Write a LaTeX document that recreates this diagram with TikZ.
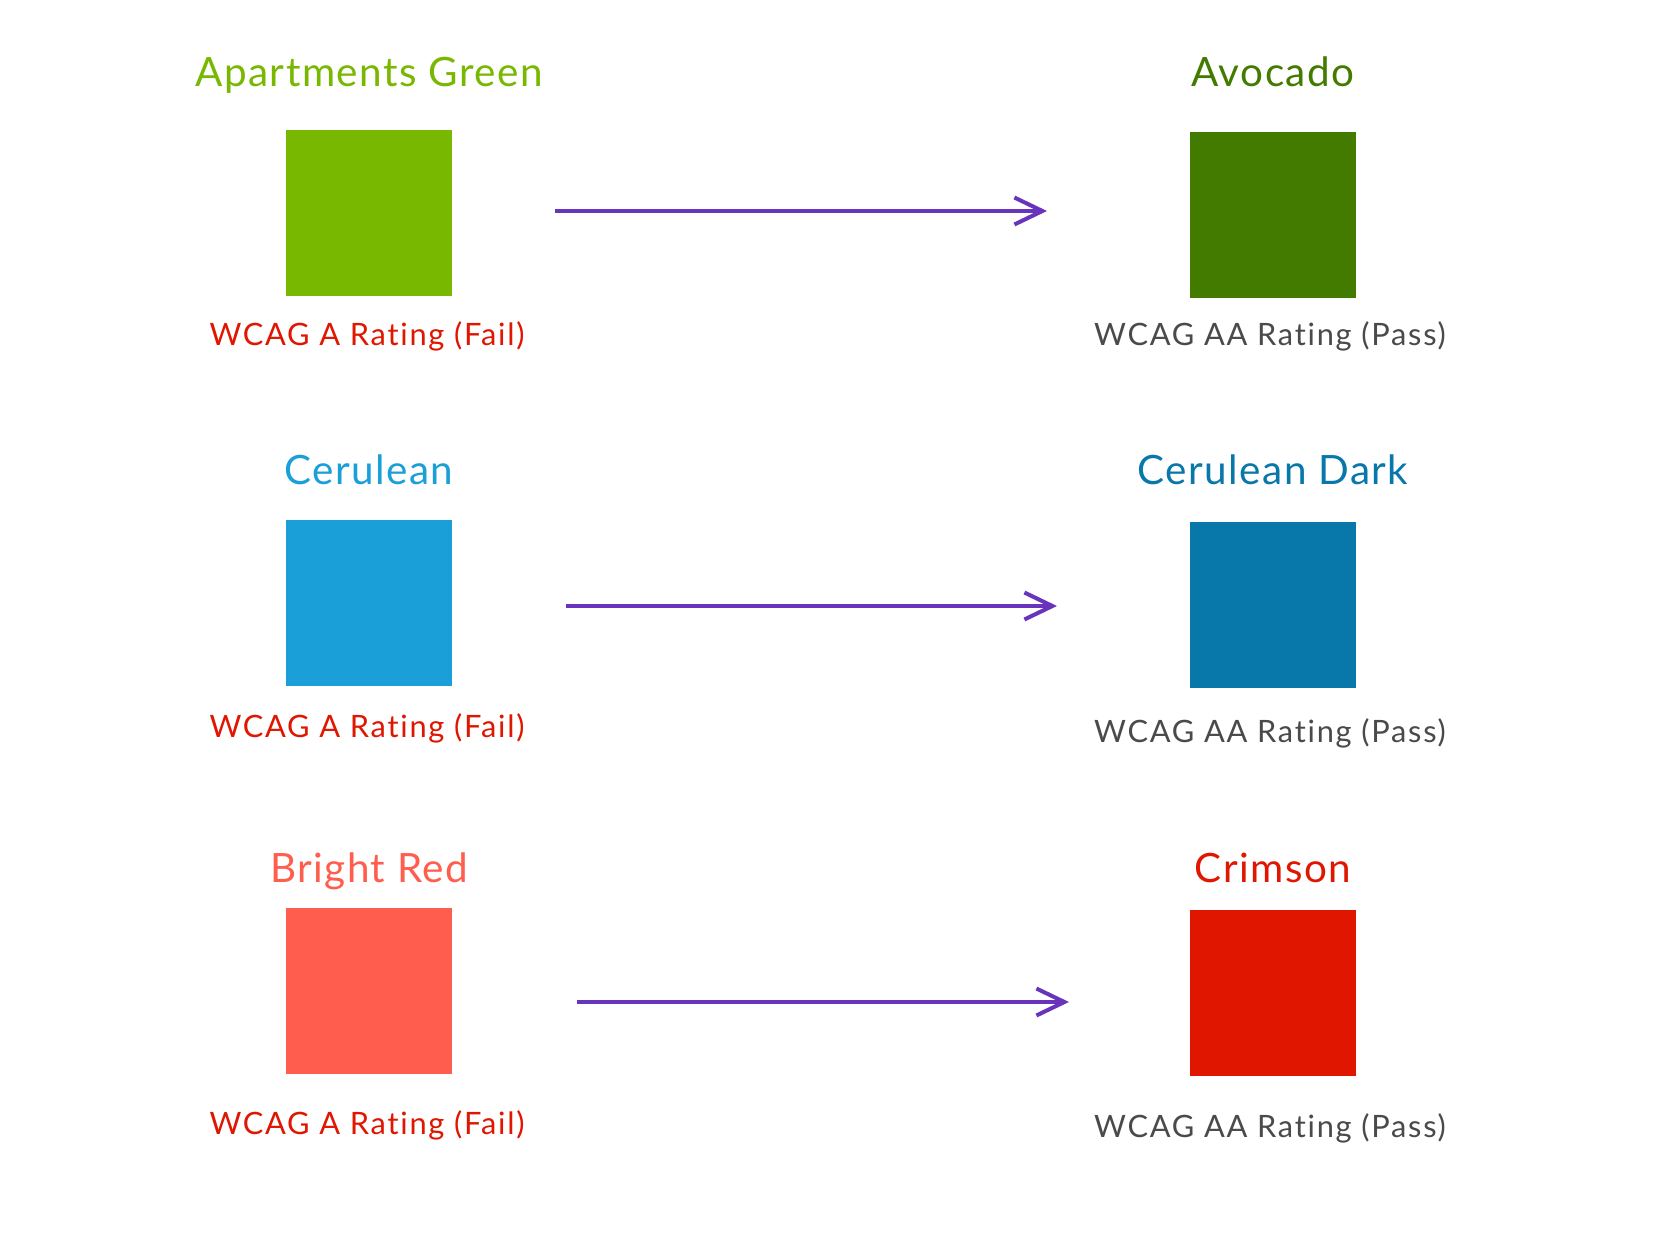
\documentclass[tikz,border=0pt]{standalone}
\usepackage{fontspec}
\setmainfont{Lato}[Ligatures=NoCommon]
\newfontfamily\titlefont{Lato}[LetterSpace=3.6, Ligatures=NoCommon]
\newfontfamily\labelfont{Lato}[LetterSpace=5.7, Ligatures=NoCommon]
\usetikzlibrary{arrows.meta}
\definecolor{apgreen}{HTML}{78B800}
\definecolor{avocado}{HTML}{437A00}
\definecolor{cerulean}{HTML}{1A9FD9}
\definecolor{ceruleandark}{HTML}{0877AA}
\definecolor{brightred}{HTML}{FF5D4D}
\definecolor{crimson}{HTML}{E01600}
\definecolor{failred}{HTML}{E01600}
\definecolor{passgray}{HTML}{4A4A4A}
\definecolor{arrowpurple}{HTML}{6834BC}
\tikzset{
  swatch/.style={fill=#1, draw=none, inner sep=0pt, minimum width=83pt, minimum height=83pt, anchor=north west},
  title/.style={text=#1, anchor=base, font=\titlefont\fontsize{20.2}{24}\selectfont, inner sep=0pt},
  faillabel/.style={text=failred, anchor=base, font=\labelfont\fontsize{15.4}{18}\selectfont, inner sep=0pt},
  passlabel/.style={text=passgray, anchor=base, font=\labelfont\fontsize{15.4}{18}\selectfont, inner sep=0pt},
  conn/.style={draw=arrowpurple, line width=2pt, -{Straight Barb[length=14pt, width=13.5pt, line width=2pt]}}
}
\begin{document}
\begin{tikzpicture}[x=0.5pt, y=-0.5pt]
\useasboundingbox[fill=white] (0,0) rectangle (1678,1242);
% row 1
\node[title=apgreen] (t1l) at (369,86) {Apartments Green};
\node[title=avocado] (t1r) at (1273,86) {Avocado};
\node[swatch=apgreen] (s1l) at (286,130) {};
\node[swatch=avocado] (s1r) at (1190,132) {};
\node[faillabel] (l1l) at (367,345) {WCAG A Rating (Fail)};
\node[passlabel] (l1r) at (1270,345) {WCAG AA Rating (Pass)};
\coordinate (a1s) at (555,211);
\coordinate (a1e) at (1047,211);
\draw[conn] (a1s) -- (a1e);
% row 2
\node[title=cerulean] (t2l) at (369,484) {Cerulean};
\node[title=ceruleandark] (t2r) at (1273,484) {Cerulean Dark};
\node[swatch=cerulean] (s2l) at (286,520) {};
\node[swatch=ceruleandark] (s2r) at (1190,522) {};
\node[faillabel] (l2l) at (367,737) {WCAG A Rating (Fail)};
\node[passlabel] (l2r) at (1270,742) {WCAG AA Rating (Pass)};
\coordinate (a2s) at (566,606);
\coordinate (a2e) at (1057,606);
\draw[conn] (a2s) -- (a2e);
% row 3
\node[title=brightred] (t3l) at (369,882) {Bright Red};
\node[title=crimson] (t3r) at (1273,882) {Crimson};
\node[swatch=brightred] (s3l) at (286,908) {};
\node[swatch=crimson] (s3r) at (1190,910) {};
\node[faillabel] (l3l) at (367,1134) {WCAG A Rating (Fail)};
\node[passlabel] (l3r) at (1270,1137) {WCAG AA Rating (Pass)};
\coordinate (a3s) at (577,1002);
\coordinate (a3e) at (1069,1002);
\draw[conn] (a3s) -- (a3e);
\end{tikzpicture}
\end{document}
